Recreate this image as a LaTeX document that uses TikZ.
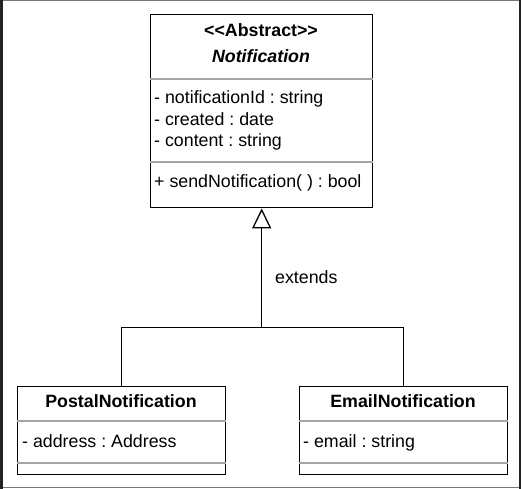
\documentclass[tikz,border=0pt]{standalone}
\usepackage{fontspec}
\setmainfont{Liberation Sans}
\usetikzlibrary{arrows.meta,positioning,calc}
\definecolor{sepgray}{RGB}{165,165,165}
\definecolor{framegray}{RGB}{120,120,120}
\definecolor{stripdark}{RGB}{35,35,35}
\frenchspacing

\begin{document}
\begin{tikzpicture}[x=1pt, y=-1pt,
    umlbox/.style={draw=black, line width=1.4pt, fill=white, inner sep=0pt, anchor=north west},
    sepline/.style={draw=sepgray, line width=1.2pt},
    umltext/.style={inner sep=0pt, font=\fontsize{17.8}{21}\selectfont},
    extendsline/.style={draw=black, line width=1.4pt},
    extendstip/.style={-{Triangle[open, length=20pt, width=19pt, line width=1.3pt]}}]
    \useasboundingbox (0,0) rectangle (522,489);

    % Window frame
    \fill[stripdark] (0,0) rectangle (3,489);
    \draw[framegray, line width=0.8pt] (3,0.5) -- (520,0.5);
    \draw[framegray, line width=0.8pt] (3,487) -- (520,487);
    \draw[stripdark, line width=1.6pt] (520,0) -- (520,489);

    % Abstract class
    \node[umlbox, minimum width=222pt, minimum height=193pt] (notif) at (150,14) {};
    \draw[sepline] ($(notif.north west)+(0,65)$) -- ($(notif.north east)+(0,65)$);
    \draw[sepline] ($(notif.north west)+(0,148)$) -- ($(notif.north east)+(0,148)$);
    \node[umltext, anchor=base, font=\fontsize{17.8}{21}\selectfont\bfseries] (notifstereo) at (261,37) {<\kern0pt<Abstract>\kern0pt>};
    \node[umltext, anchor=base, font=\fontsize{17.8}{21}\selectfont\bfseries\itshape] (notifname) at (261,63) {Notification};
    \node[umltext, anchor=base west] (notifid) at (154,104) {- notificationId : string};
    \node[umltext, anchor=base west] (notifcreated) at (154,125.5) {- created : date};
    \node[umltext, anchor=base west] (notifcontent) at (154,147) {- content : string};
    \node[umltext, anchor=base west] (notifsend) at (154,188) {+ sendNotification( ) : bool};

    % Subclasses
    \node[umlbox, minimum width=208pt, minimum height=88pt] (postal) at (17,386) {};
    \draw[sepline] ($(postal.north west)+(0,35)$) -- ($(postal.north east)+(0,35)$);
    \draw[sepline] ($(postal.north west)+(0,77)$) -- ($(postal.north east)+(0,77)$);
    \node[umltext, anchor=base, font=\fontsize{17.8}{21}\selectfont\bfseries] (postalname) at (121,407) {PostalNotification};
    \node[umltext, anchor=base west] (postaladdr) at (22,447) {- address : Address};

    \node[umlbox, minimum width=208pt, minimum height=88pt] (email) at (299,386) {};
    \draw[sepline] ($(email.north west)+(0,35)$) -- ($(email.north east)+(0,35)$);
    \draw[sepline] ($(email.north west)+(0,77)$) -- ($(email.north east)+(0,77)$);
    \node[umltext, anchor=base, font=\fontsize{17.8}{21}\selectfont\bfseries] (emailname) at (403,407) {EmailNotification};
    \node[umltext, anchor=base west] (emailaddr) at (303,447) {- email : string};

    % Generalisation
    \coordinate (joint) at ($(notif.south)+(0,119)$);
    \draw[extendsline] (postal.north) |- (joint);
    \draw[extendsline] (email.north) |- (joint);
    \draw[extendsline, extendstip] (joint) -- (notif.south);
    \node[umltext, anchor=base west] (extendslabel) at (275,283) {extends};
\end{tikzpicture}
\end{document}
